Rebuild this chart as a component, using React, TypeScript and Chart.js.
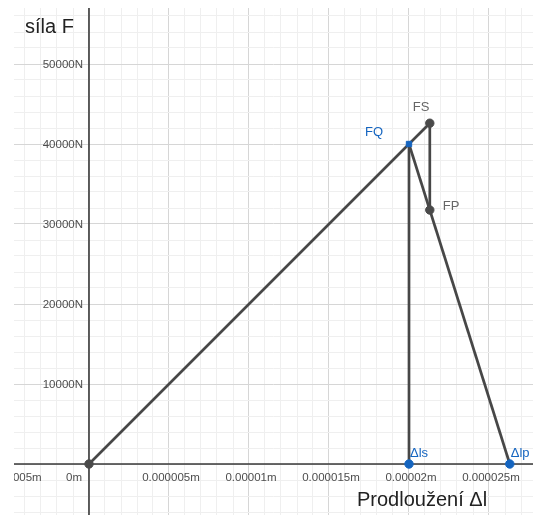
import React, { useEffect, useRef } from "react";
import { Chart, registerables } from "chart.js";

Chart.register(...registerables);

// ---- data ----
const pointNames = ["O", "FQ", "FS", "FP", "Δls", "Δlp"];
const elongation = [0, 0.00002, 0.0000213, 0.0000213, 0.00002, 0.0000263];
const force = [0, 40000, 42600, 31750, 0, 0];
const showName = [false, true, true, true, true, true];
const segments: [number, number][] = [
  [0, 1],
  [1, 4],
  [1, 2],
  [2, 3],
  [1, 3],
  [3, 5],
];

const xTickValues = [-0.000005, 0, 0.000005, 0.00001, 0.000015, 0.00002, 0.000025];
const xTickLabels = ["-0.000005m", "0m", "0.000005m", "0.00001m", "0.000015m", "0.00002m", "0.000025m"];
const yTickValues = [10000, 20000, 30000, 40000, 50000];
const yTickLabels = ["10000N", "20000N", "30000N", "40000N", "50000N"];

const xTitle = "Prodloužení Δl";
const yTitle = "síla F";

const X_MIN = -0.0000046875;
const X_MAX = 0.00002775;
const Y_MIN = -6375;
const Y_MAX = 57000;
const X_MINOR = 0.000001;
const Y_MINOR = 2000;

const BLUE = "#1565c0";
const GRAY_PT = "#4a4a4a";
const LINE = "#474747";
const FONT = "'Liberation Sans', Arial, sans-serif";

const pointColor = (i: number) => (i === 1 || i === 4 || i === 5 ? BLUE : GRAY_PT);

export default function App() {
  const ref = useRef<HTMLCanvasElement | null>(null);

  useEffect(() => {
    if (!ref.current) return;

    const segDatasets = segments.map(([a, b]) => ({
      type: "scatter" as const,
      data: [
        { x: elongation[a], y: force[a] },
        { x: elongation[b], y: force[b] },
      ],
      showLine: true,
      borderColor: LINE,
      borderWidth: 2.7,
      pointRadius: 0,
      order: 2,
    }));

    const pointDataset = {
      type: "scatter" as const,
      data: pointNames.map((_, i) => ({ x: elongation[i], y: force[i] })),
      showLine: false,
      pointRadius: pointNames.map((_, i) => (i === 1 ? 3.8 : 4.2)),
      pointStyle: pointNames.map((_, i) => (i === 1 ? "rect" : "circle")),
      pointBackgroundColor: pointNames.map((_, i) => pointColor(i)),
      pointBorderColor: pointNames.map((_, i) => pointColor(i)),
      pointBorderWidth: 1,
      order: 1,
    };

    const overlay = {
      id: "overlay",
      beforeDatasetsDraw(chart: any) {
        const { ctx, scales, chartArea } = chart;
        const xs = scales.x;
        const ys = scales.y;
        const x0 = xs.getPixelForValue(0);
        const y0 = ys.getPixelForValue(0);
        ctx.save();
        ctx.beginPath();
        ctx.rect(chartArea.left, chartArea.top, chartArea.right - chartArea.left, chartArea.bottom - chartArea.top);
        ctx.clip();
        ctx.strokeStyle = "#3a3a3a";
        ctx.lineWidth = 1.6;
        ctx.beginPath();
        ctx.moveTo(chartArea.left, y0);
        ctx.lineTo(chartArea.right, y0);
        ctx.moveTo(x0, chartArea.top);
        ctx.lineTo(x0, chartArea.bottom);
        ctx.stroke();

        // tick labels
        ctx.fillStyle = "#4d4d4d";
        ctx.font = `11.5px ${FONT}`;
        ctx.textBaseline = "middle";
        xTickValues.forEach((v, i) => {
          const px = xs.getPixelForValue(v);
          if (v === 0) {
            ctx.textAlign = "right";
            ctx.fillText(xTickLabels[i], px - 7, y0 + 14);
          } else {
            ctx.textAlign = "center";
            ctx.fillText(xTickLabels[i], px + 2, y0 + 14);
          }
        });
        ctx.textAlign = "right";
        yTickValues.forEach((v, i) => {
          const py = ys.getPixelForValue(v);
          ctx.fillText(yTickLabels[i], x0 - 6, py + 1);
        });

        // axis titles
        ctx.fillStyle = "#222";
        ctx.font = `20px ${FONT}`;
        ctx.textAlign = "left";
        ctx.textBaseline = "alphabetic";
        ctx.fillText(yTitle, chartArea.left + 11, 33);
        ctx.fillText(xTitle, 357, chartArea.bottom - 9);
        ctx.restore();
      },
      afterDatasetsDraw(chart: any) {
        const { ctx, scales } = chart;
        const xs = scales.x;
        const ys = scales.y;
        ctx.save();
        ctx.font = `13px ${FONT}`;
        ctx.textBaseline = "middle";
        ctx.textAlign = "left";
        const offsets: Record<string, [number, number]> = {
          FQ: [-44, -12],
          FS: [-17, -16],
          FP: [13, -4],
          "Δls": [1, -11],
          "Δlp": [1, -11],
        };
        pointNames.forEach((n, i) => {
          if (!showName[i]) return;
          const px = xs.getPixelForValue(elongation[i]);
          const py = ys.getPixelForValue(force[i]);
          const off = offsets[n] || [6, -10];
          ctx.fillStyle = pointColor(i) === BLUE ? BLUE : "#666";
          ctx.fillText(n, px + off[0], py + off[1]);
        });
        ctx.restore();
      },
    };

    const gridColorX = (c: any) => {
      const v = c.tick?.value ?? 0;
      const k = Math.round(v / X_MINOR);
      if (Math.abs(v / X_MINOR - k) > 1e-6) return "rgba(0,0,0,0)";
      return k % 5 === 0 ? "#d6d6d6" : "#efefef";
    };
    const gridColorY = (c: any) => {
      const v = c.tick?.value ?? 0;
      const k = Math.round(v / Y_MINOR);
      if (Math.abs(v / Y_MINOR - k) > 1e-6) return "rgba(0,0,0,0)";
      return k % 5 === 0 ? "#d6d6d6" : "#efefef";
    };

    const chart = new Chart(ref.current, {
      type: "scatter",
      data: { datasets: [...segDatasets, pointDataset] as any },
      options: {
        animation: false,
        responsive: false,
        layout: { autoPadding: false, padding: { left: 14, top: 8, right: 0, bottom: 0 } },
        plugins: { legend: { display: false }, tooltip: { enabled: false } },
        scales: {
          x: {
            type: "linear",
            min: X_MIN,
            max: X_MAX,
            afterBuildTicks: (s: any) => {
              const t = [];
              for (let k = Math.ceil(X_MIN / X_MINOR); k * X_MINOR <= X_MAX; k++) t.push({ value: k * X_MINOR });
              s.ticks = t;
            },
            ticks: { display: false },
            grid: { color: gridColorX, lineWidth: 1, drawTicks: false },
            border: { display: false },
          },
          y: {
            type: "linear",
            min: Y_MIN,
            max: Y_MAX,
            afterBuildTicks: (s: any) => {
              const t = [];
              for (let k = Math.ceil(Y_MIN / Y_MINOR); k * Y_MINOR <= Y_MAX; k++) t.push({ value: k * Y_MINOR });
              s.ticks = t;
            },
            ticks: { display: false },
            grid: { color: gridColorY, lineWidth: 1, drawTicks: false },
            border: { display: false },
          },
        },
      },
      plugins: [overlay],
    });
    return () => chart.destroy();
  }, []);

  return (
    <div style={{ position: "fixed", left: 0, top: 0, width: 533, height: 515, background: "#fff" }}>
      <canvas ref={ref} width={533} height={515} style={{ width: 533, height: 515, display: "block" }} />
    </div>
  );
}
